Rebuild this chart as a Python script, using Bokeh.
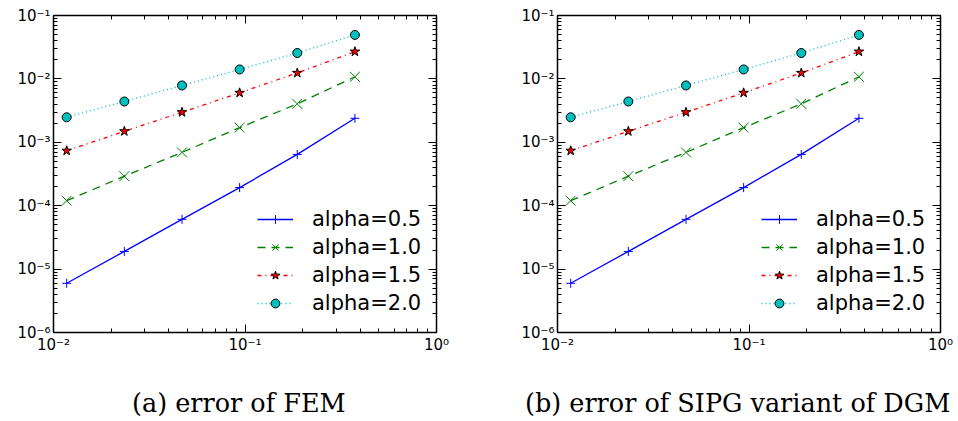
from bokeh.plotting import figure
from bokeh.models import (LogAxis, FixedTicker, CustomJSTickFormatter, Range1d,
                          Legend, LegendItem, Div)
from bokeh.layouts import row, column
from bokeh.embed import file_html
from bokeh.resources import INLINE

# mesh size h
h = [0.01171875, 0.0234375, 0.046875, 0.09375, 0.1875, 0.375]

# (a) FEM errors
fem_a05 = [5.97e-6, 1.90e-5, 6.09e-5, 1.93e-4, 6.44e-4, 2.39e-3]
fem_a10 = [1.20e-4, 2.92e-4, 6.93e-4, 1.70e-3, 4.04e-3, 1.08e-2]
fem_a15 = [7.36e-4, 1.49e-3, 2.98e-3, 6.03e-3, 1.24e-2, 2.69e-2]
fem_a20 = [2.48e-3, 4.40e-3, 7.88e-3, 1.41e-2, 2.56e-2, 4.94e-2]

# (b) SIPG-DGM errors
dgm_a05 = [5.97e-6, 1.90e-5, 6.09e-5, 1.93e-4, 6.44e-4, 2.39e-3]
dgm_a10 = [1.20e-4, 2.92e-4, 6.93e-4, 1.70e-3, 4.04e-3, 1.08e-2]
dgm_a15 = [7.36e-4, 1.49e-3, 2.98e-3, 6.03e-3, 1.24e-2, 2.69e-2]
dgm_a20 = [2.48e-3, 4.40e-3, 7.88e-3, 1.41e-2, 2.56e-2, 4.94e-2]

labels = ["alpha=0.5", "alpha=1.0", "alpha=1.5", "alpha=2.0"]
captions = ["(a) error of FEM", "(b) error of SIPG variant of DGM"]

x_major = [1e-2, 1e-1, 1e0]
y_major = [1e-6, 1e-5, 1e-4, 1e-3, 1e-2, 1e-1]
x_minor = [m * 10.0 ** e for e in range(-2, 0) for m in range(2, 10)]
y_minor = [m * 10.0 ** e for e in range(-6, -1) for m in range(2, 10)]

FMT = """
const e = Math.round(Math.log10(tick));
const sup = {'-':'\u207b','0':'\u2070','1':'\u00b9','2':'\u00b2','3':'\u00b3',
             '4':'\u2074','5':'\u2075','6':'\u2076','7':'\u2077','8':'\u2078','9':'\u2079'};
return '10' + String(e).split('').map(c => sup[c]).join('');
"""

styles = [
    dict(color="#0000ff", dash="solid", marker="cross", fill="#0000ff", edge="#0000ff", size=9),
    dict(color="#008000", dash="8 6", marker="x", fill="#008000", edge="#008000", size=14),
    dict(color="#ff0000", dash="4 4 1 4", marker="star", fill="#ff0000", edge="#000000", size=10),
    dict(color="#00bfbf", dash="1 3", marker="circle", fill="#00bfbf", edge="#000000", size=9),
]


def style_axis(ax, ticker_major, ticker_minor, show_labels):
    ax.ticker = FixedTicker(ticks=ticker_major, minor_ticks=ticker_minor)
    ax.axis_line_color = None
    ax.major_tick_in = 8
    ax.major_tick_out = 0
    ax.minor_tick_in = 4
    ax.minor_tick_out = 0
    ax.major_tick_line_color = "black"
    ax.minor_tick_line_color = "black"
    if show_labels:
        ax.formatter = CustomJSTickFormatter(code=FMT)
        ax.major_label_text_font = "DejaVu Sans"
        ax.major_label_text_font_size = "15px"
        ax.major_label_text_color = "black"
        ax.major_label_standoff = 3
    else:
        ax.formatter = CustomJSTickFormatter(code="return '';")
        ax.major_label_standoff = 0


def make(width, bl, br, series):
    p = figure(width=width, height=375, x_axis_type="log", y_axis_type="log",
               x_range=Range1d(1e-2, 1e0), y_range=Range1d(1e-6, 1e-1),
               output_backend="svg", toolbar_location=None,
               min_border_left=bl, min_border_right=br,
               min_border_top=15, min_border_bottom=43)
    p.grid.visible = False
    p.outline_line_color = "black"
    p.outline_line_width = 1.5
    p.background_fill_color = "white"
    p.border_fill_color = "white"

    style_axis(p.xaxis[0], x_major, x_minor, True)
    style_axis(p.yaxis[0], y_major, y_minor, True)
    top = LogAxis()
    style_axis(top, x_major, x_minor, False)
    p.add_layout(top, "above")
    right = LogAxis()
    style_axis(right, y_major, y_minor, False)
    p.add_layout(right, "right")

    items = []
    for lab, ys, st in zip(labels, series, styles):
        ln = p.line(h, ys, line_color=st["color"], line_width=1.3, line_dash=st["dash"])
        sc = p.scatter(h, ys, marker=st["marker"], size=st["size"],
                       fill_color=st["fill"], line_color=st["edge"], line_width=1)
        items.append(LegendItem(label=lab, renderers=[ln, sc]))

    leg = Legend(items=items, location=(204, 17))
    leg.border_line_color = None
    leg.background_fill_alpha = 0
    leg.label_text_font = "DejaVu Sans"
    leg.label_text_font_size = "21px"
    leg.label_text_color = "black"
    leg.glyph_width = 36
    leg.glyph_height = 22
    leg.label_height = 22
    leg.label_standoff = 19
    leg.spacing = 4
    leg.padding = 5
    leg.margin = 0
    p.add_layout(leg)
    return p


def caption_div(text, width, left):
    return Div(text=text, width=width, height=46, margin=0,
               styles={"font-family": "DejaVu Serif", "font-size": "25.5px",
                       "line-height": "30px", "color": "black",
                       "white-space": "nowrap", "padding-top": "13px",
                       "padding-left": f"{left}px", "box-sizing": "border-box"})


p1 = make(483, 53, 47, [fem_a05, fem_a10, fem_a15, fem_a20])
p2 = make(475, 74, 18, [dgm_a05, dgm_a10, dgm_a15, dgm_a20])
c1 = caption_div(captions[0], 483, 132)
c2 = caption_div(captions[1], 475, 42)

layout = column(row(p1, p2), row(c1, c2))
open("out.html", "w").write(file_html(layout, INLINE))
